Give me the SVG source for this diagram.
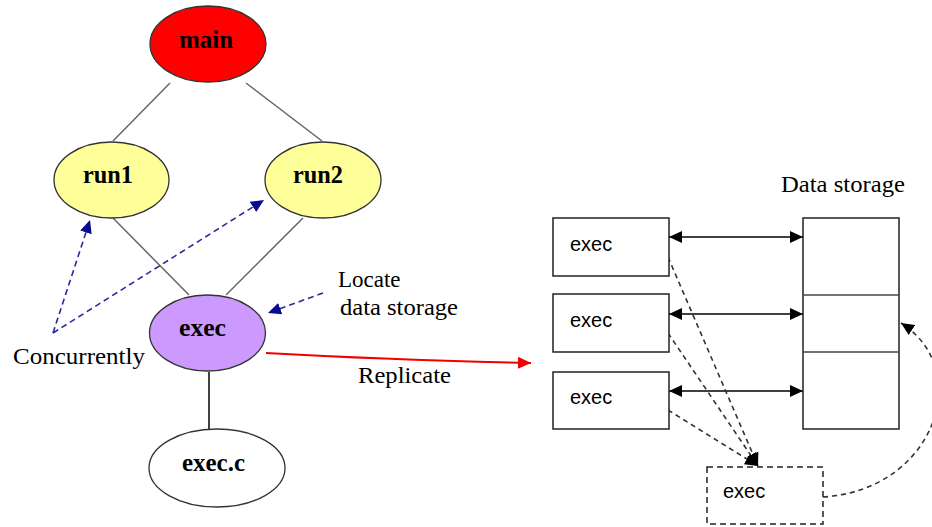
<svg xmlns="http://www.w3.org/2000/svg" width="932" height="527" viewBox="0 0 932 527">
<style>
.lbl{font-family:"Liberation Serif","Times New Roman",serif;font-weight:bold;font-size:25px;fill:#000;text-anchor:middle}
.ann{font-family:"Liberation Serif","Times New Roman",serif;font-size:23px;fill:#000}
.box{font-family:"Liberation Sans",Arial,sans-serif;font-size:20px;fill:#000}
.node{stroke:#333;stroke-width:1.3}
.edge{stroke:#666;stroke-width:1.5;fill:none}
.blue{stroke:#2a2aa0;stroke-width:1.6;fill:none;stroke-dasharray:6 4}
.gd{stroke:#333;stroke-width:1.6;fill:none;stroke-dasharray:5 4}
.rect{fill:#fff;stroke:#222;stroke-width:1.5}
</style>
<defs>
<marker id="ab" markerUnits="userSpaceOnUse" markerWidth="14" markerHeight="12" refX="13" refY="6" orient="auto"><path d="M0,0 L13,6 L0,12 z" fill="#0a0a90"/></marker>
<marker id="ar" markerUnits="userSpaceOnUse" markerWidth="14" markerHeight="12" refX="13" refY="6" orient="auto"><path d="M0,0 L13,6 L0,12 z" fill="#f00000"/></marker>
<marker id="ak" markerUnits="userSpaceOnUse" markerWidth="14" markerHeight="12" refX="13" refY="6" orient="auto"><path d="M0,0 L13,6 L0,12 z" fill="#000"/></marker>
<marker id="aks" markerUnits="userSpaceOnUse" markerWidth="14" markerHeight="12" refX="13" refY="6" orient="auto-start-reverse"><path d="M0,0 L13,6 L0,12 z" fill="#000"/></marker>
</defs>
<rect width="932" height="527" fill="#fff"/>
<g id="connectors">
<line class="edge" x1="170" y1="83" x2="113" y2="141"/>
<line class="edge" x1="246" y1="83" x2="322" y2="141"/>
<line class="edge" x1="113" y1="218" x2="189" y2="295"/>
<line class="edge" x1="303" y1="218" x2="226" y2="295"/>
<line x1="209" y1="372" x2="209" y2="429" stroke="#000" stroke-width="1.5"/>
<line class="blue" x1="53" y1="333" x2="90" y2="220" marker-end="url(#ab)"/>
<line class="blue" x1="53" y1="333" x2="264" y2="200" marker-end="url(#ab)"/>
<line class="blue" x1="323" y1="293" x2="268" y2="313" marker-end="url(#ab)"/>
<path d="M266,353 Q390,360 531,363" stroke="#f00000" stroke-width="2" fill="none" marker-end="url(#ar)"/>
<line x1="669" y1="237" x2="803" y2="237" stroke="#000" stroke-width="1.5" marker-start="url(#aks)" marker-end="url(#ak)"/>
<line x1="669" y1="314" x2="803" y2="314" stroke="#000" stroke-width="1.5" marker-start="url(#aks)" marker-end="url(#ak)"/>
<line x1="669" y1="391" x2="803" y2="391" stroke="#000" stroke-width="1.5" marker-start="url(#aks)" marker-end="url(#ak)"/>
<line class="gd" x1="668" y1="257" x2="758" y2="466" marker-end="url(#ak)"/>
<line class="gd" x1="668" y1="333" x2="758" y2="466" marker-end="url(#ak)"/>
<line class="gd" x1="668" y1="410" x2="758" y2="466" marker-end="url(#ak)"/>
<path class="gd" d="M823,497 C935,490 975,370 901,323" marker-end="url(#ak)"/>
</g>
<g id="main"><ellipse class="node" cx="208" cy="44" rx="58" ry="38" fill="#ff0000"/><text class="lbl" x="206" y="48" textLength="54" lengthAdjust="spacingAndGlyphs">main</text></g>
<g id="run1"><ellipse class="node" cx="111.5" cy="180" rx="57.5" ry="38" fill="#ffff99"/><text class="lbl" x="108" y="183" textLength="50" lengthAdjust="spacingAndGlyphs">run1</text></g>
<g id="run2"><ellipse class="node" cx="323" cy="180" rx="58" ry="38" fill="#ffff99"/><text class="lbl" x="318" y="183" textLength="50" lengthAdjust="spacingAndGlyphs">run2</text></g>
<g id="exec"><ellipse class="node" cx="207.5" cy="333" rx="58" ry="38" fill="#cc99ff"/><text class="lbl" x="202.5" y="336" textLength="47" lengthAdjust="spacingAndGlyphs">exec</text></g>
<g id="exec-c"><ellipse class="node" cx="217" cy="468" rx="68" ry="39" fill="#fff"/><text class="lbl" x="213.5" y="471" textLength="63" lengthAdjust="spacingAndGlyphs">exec.c</text></g>
<g id="annotations">
<text class="ann" x="13" y="364" textLength="132" lengthAdjust="spacingAndGlyphs">Concurrently</text>
<text class="ann" x="338" y="287">Locate</text>
<text class="ann" x="340" y="315" textLength="118" lengthAdjust="spacingAndGlyphs">data storage</text>
<text class="ann" x="358" y="383" textLength="93" lengthAdjust="spacingAndGlyphs">Replicate</text>
<text class="ann" x="781" y="192" textLength="124" lengthAdjust="spacingAndGlyphs">Data storage</text>
</g>
<g id="box1"><rect class="rect" x="553" y="218" width="116" height="58"/><text class="box" x="570" y="251">exec</text></g>
<g id="box2"><rect class="rect" x="553" y="294" width="116" height="58"/><text class="box" x="570" y="327">exec</text></g>
<g id="box3"><rect class="rect" x="553" y="372" width="116" height="57"/><text class="box" x="570" y="404">exec</text></g>
<g id="storage"><rect class="rect" x="803" y="218" width="96" height="211"/><line x1="803" y1="295" x2="899" y2="295" stroke="#444" stroke-width="1.5"/><line x1="803" y1="352" x2="899" y2="352" stroke="#444" stroke-width="1.5"/></g>
<g id="box-dashed"><rect x="707" y="467" width="116" height="57" fill="#fff" stroke="#222" stroke-width="1.5" stroke-dasharray="6 4"/><text class="box" x="723" y="498">exec</text></g>
</svg>
